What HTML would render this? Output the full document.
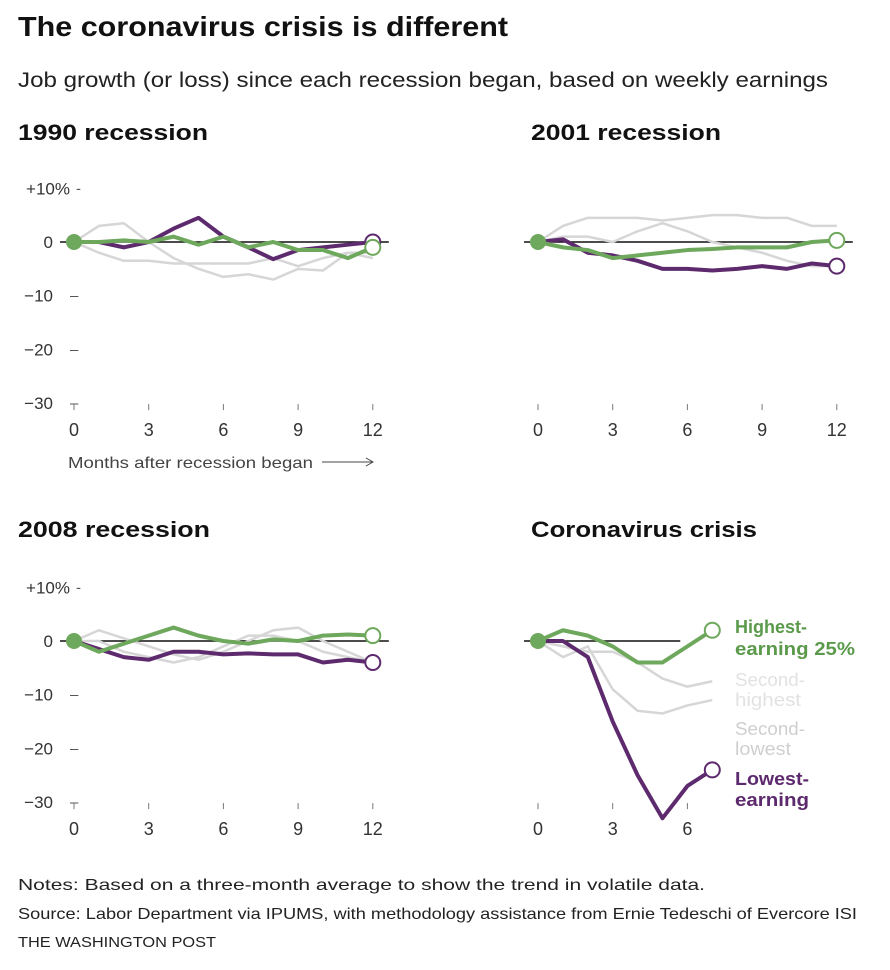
<!DOCTYPE html>
<html><head><meta charset="utf-8"><style>
body{margin:0;background:#fff;width:890px;height:965px;overflow:hidden;font-family:"Liberation Sans",sans-serif;}
svg text{font-family:"Liberation Sans",sans-serif;}
</style></head><body>
<svg id="chart" width="890" height="965" xmlns="http://www.w3.org/2000/svg">
<text x="18" y="36" font-size="28" font-weight="bold" fill="#111" textLength="490" lengthAdjust="spacingAndGlyphs">The coronavirus crisis is different</text>
<text x="18" y="87" font-size="21" fill="#222" textLength="810" lengthAdjust="spacingAndGlyphs">Job growth (or loss) since each recession began, based on weekly earnings</text>
<g id="panels"></g>
<text x="18" y="890" font-size="16" fill="#222" textLength="687" lengthAdjust="spacingAndGlyphs">Notes: Based on a three-month average to show the trend in volatile data.</text>
<text x="18" y="919" font-size="16" fill="#222" textLength="839" lengthAdjust="spacingAndGlyphs">Source: Labor Department via IPUMS, with methodology assistance from Ernie Tedeschi of Evercore ISI</text>
<text x="18" y="947" font-size="15" fill="#222" textLength="198" lengthAdjust="spacingAndGlyphs">THE WASHINGTON POST</text>
</svg>
<script>
const titles=["1990 recession","2001 recession","2008 recession","Coronavirus crisis"];
const yTicks=[10,0,-10,-20,-30];
const yTickLabels=["+10%","0","\u221210","\u221220","\u221230"];
const xTicks=[0,3,6,9,12];
const p1Lowest=[0,0,-1,0,2.5,4.5,1,-1,-3.2,-1.5,-1,-0.5,0];
const p1Highest=[0,0,0.3,0,1,-0.5,1,-1,0,-1.5,-1.5,-3,-1];
const p1SecHigh=[0,3,3.5,0,-3,-5,-6.5,-6,-7,-5,-5.3,-2,-2];
const p1SecLow=[0,-2,-3.5,-3.5,-4,-4,-4,-4,-3,-4.5,-3,-2,-3];
const p2Lowest=[0,0.5,-2,-2.5,-3.5,-5,-5,-5.3,-5,-4.5,-5,-4,-4.5];
const p2Highest=[0,-1,-1.5,-3,-2.5,-2,-1.5,-1.3,-1,-1,-1,0,0.3];
const p2SecHigh=[0,3,4.5,4.5,4.5,4,4.5,5,5,4.5,4.5,3,3];
const p2SecLow=[0,1,1,0,2,3.5,2,0,-1,-2,-3.5,-4.5,-4.5];
const p3Lowest=[0,-1.5,-3,-3.5,-2,-2,-2.5,-2.3,-2.5,-2.5,-4,-3.5,-4];
const p3Highest=[0,-2,-0.5,1,2.5,1,0,-0.5,0.3,0,1,1.2,1];
const p3SecHigh=[0,2,0.5,-1,-2.5,-3.5,-2,0,2,2.5,0,-2,-4];
const p3SecLow=[0,0,-2,-3,-4,-3,-1,1,1,0,-2,-3,-4];
const p4Lowest=[0,0,-3,-15,-25,-33,-27,-24];
const p4Highest=[0,2,1,-1,-4,-4,-1,2];
const p4SecHigh=[0,-1,-2,-2,-4,-7,-8.5,-7.5];
const p4SecLow=[0,-3,-1,-9,-13,-13.5,-12,-11];
const panelSeries=[[p1SecHigh,p1SecLow,p1Lowest,p1Highest],[p2SecHigh,p2SecLow,p2Lowest,p2Highest],[p3SecHigh,p3SecLow,p3Lowest,p3Highest],[p4SecHigh,p4SecLow,p4Lowest,p4Highest]];

const NS="http://www.w3.org/2000/svg";
const root=document.getElementById('panels');
function mk(tag,attrs,parent){const e=document.createElementNS(NS,tag);for(const k in attrs)e.setAttribute(k,attrs[k]);parent.appendChild(e);return e;}
const layout=[{ox:74,y0:242,ty:140,tx:18},{ox:538,y0:242,ty:140,tx:531},{ox:74,y0:641,ty:537,tx:18},{ox:538,y0:641,ty:537,tx:531}];
const titleW=[190,190,192,226];
const pxM=24.9, pxP=5.37;
layout.forEach((L,i)=>{
  const g=mk('g',{},root);
  
  
  const xs=m=>L.ox+m*pxM, ys=v=>L.y0-v*pxP;
  const t=mk('text',{x:L.tx,y:L.ty,'font-size':22,'font-weight':'bold',fill:'#111',textLength:titleW[i],lengthAdjust:'spacingAndGlyphs'},g);
  t.textContent=titles[i];
  
  
  if(i%2===0){
    yTicks.forEach((v,j)=>{
      const tl=mk('text',{x:j===0?70:53,y:ys(v)+6,'font-size':17,fill:'#333','text-anchor':'end'},g);
      tl.textContent=yTickLabels[j];
      
      
      if(j!==1){
        const d=mk('text',{x:j===0?76:70,y:ys(v)+5,'font-size':15,fill:'#555'},g);
        d.textContent=j===0?'-':'\u2013';
      }
    });
  }
  const tks=i===3?[0,3,6]:xTicks;
  tks.forEach(m=>{
    mk('line',{x1:xs(m),x2:xs(m),y1:ys(-30)+1,y2:ys(-30)+7,stroke:'#777','stroke-width':1},g);
    const tl=mk('text',{x:xs(m),y:ys(-30)+33,'font-size':18,fill:'#333','text-anchor':'middle'},g);
    tl.textContent=m;
    
    
  });
  const zl=mk('line',{x1:L.ox-14,x2:i===3?xs(7)-32:xs(12)+16,y1:L.y0,y2:L.y0,stroke:'#111','stroke-width':1.5},g);
  
  
  const cols=['#d6d6d6','#d6d6d6','#5e2a6e','#6ea85c'];
  const names=['second-highest-line','second-lowest-line','lowest-earning-line','highest-earning-line'];
  panelSeries[i].forEach((arr,k)=>{
    const p=mk('polyline',{points:arr.map((v,m)=>xs(m)+','+ys(v)).join(' '),fill:'none',stroke:cols[k],'stroke-width':k<2?2.5:4,'stroke-linejoin':'round'},g);
    
    
  });
  [2,3].forEach(k=>{
    const arr=panelSeries[i][k];const n=arr.length-1;
    const c=mk('circle',{cx:xs(n),cy:ys(arr[n]),r:7.5,fill:'#fff',stroke:cols[k],'stroke-width':2},g);
    
    
  });
  const s=mk('circle',{cx:xs(0),cy:ys(0),r:8,fill:'#6ea85c'},g);
  
  
  if(i===0){
    const a=mk('text',{x:68,y:468,'font-size':16,fill:'#444',textLength:245,lengthAdjust:'spacingAndGlyphs'},g);
    a.textContent='Months after recession began';
    
    
    mk('line',{x1:322,x2:372,y1:462,y2:462,stroke:'#444','stroke-width':1},g);
    mk('path',{d:'M366,458 L373,462 L366,466',fill:'none',stroke:'#444'},g);
  }
  if(i===3){
    const labs=[["Highest-",633,'#5b9a4b','bold',72],["earning 25%",655,'#5b9a4b','bold',120],["Second-",686,'#e2e2e2','normal',70],["highest",706,'#e2e2e2','normal',66],["Second-",735,'#cfcfcf','normal',70],["lowest",755,'#cfcfcf','normal',56],["Lowest-",785,'#5e2a6e','bold',74],["earning",806,'#5e2a6e','bold',74]];
    labs.forEach(l=>{
      const tl=mk('text',{x:735,y:l[1],'font-size':18,fill:l[2],'font-weight':l[3],textLength:l[4],lengthAdjust:'spacingAndGlyphs'},g);
      tl.textContent=l[0];
      
      
    });
  }
});
</script>
</body></html>
